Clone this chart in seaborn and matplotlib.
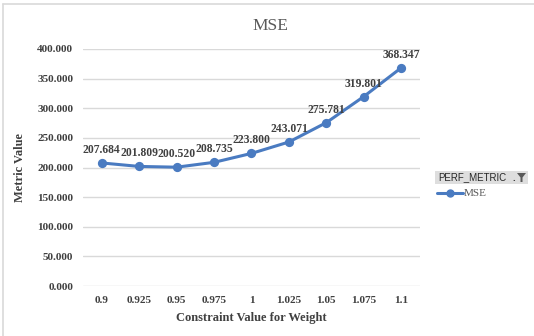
import matplotlib
matplotlib.use("Agg")
import matplotlib.pyplot as plt
from matplotlib.patches import Rectangle, Polygon
from matplotlib.lines import Line2D
from matplotlib.ticker import FuncFormatter, MultipleLocator
import seaborn as sns

# Constraint values (categories) and the MSE measured at each one
constraint_values = ["0.9", "0.925", "0.95", "0.975", "1", "1.025", "1.05", "1.075", "1.1"]
mse_values = [207.684, 201.809, 200.520, 208.735, 223.800, 243.071, 275.781, 319.801, 368.347]
series_name = "MSE"
filter_field = "PERF_METRIC"

sns.set_theme(style="white")
plt.rcParams["font.family"] = ["Liberation Serif", "DejaVu Serif"]

line_color = "#4a7bc1"
text_gray = "#404040"
grid_gray = "#d9d9d9"

fig = plt.figure(figsize=(5.34, 3.36), dpi=100)
ax = fig.add_axes([83 / 534, 1 - 286 / 336, (420 - 83) / 534, (286 - 49) / 336])

sns.pointplot(x=constraint_values, y=mse_values, color=line_color, markers="o",
              markersize=5.0, linewidth=2.2, ax=ax, errorbar=None)

ax.set_xlim(-0.5, len(constraint_values) - 0.5)
ax.set_ylim(0, 400)
ax.yaxis.set_major_locator(MultipleLocator(50))
ax.yaxis.set_major_formatter(FuncFormatter(lambda v, _: f"{v:.3f}"))
ax.yaxis.grid(True, color=grid_gray, linewidth=1.0)
ax.xaxis.grid(False)
ax.set_axisbelow(True)
for side in ["top", "right", "left", "bottom"]:
    ax.spines[side].set_visible(False)
ax.tick_params(axis="both", length=0, labelsize=8.1, labelcolor=text_gray)
ax.tick_params(axis="y", pad=7)
ax.tick_params(axis="x", pad=7)
for lbl in ax.get_xticklabels() + ax.get_yticklabels():
    lbl.set_fontweight("bold")

ax.set_xlabel("Constraint Value for Weight", fontsize=9, fontweight="bold",
              color=text_gray, labelpad=5)
ax.set_ylabel("Metric Value", fontsize=9, fontweight="bold", color=text_gray, labelpad=8)

# value labels above every point
for i, v in enumerate(mse_values):
    ax.annotate(f"{v:.3f}", (i, v), xytext=(0, 5), textcoords="offset points",
                ha="center", va="bottom", fontsize=8.4, fontweight="bold", color=text_gray)

fig.text(270 / 534, 1 - 25.5 / 336, "MSE", ha="center", va="center",
         fontsize=12.5, color="#595959")

# outer chart border (left and top edges)
fig.add_artist(Line2D([3 / 534, 3 / 534], [0, 1 - 4 / 336], transform=fig.transFigure,
                      color=grid_gray, linewidth=1.2))
fig.add_artist(Line2D([3 / 534, 1], [1 - 4 / 336, 1 - 4 / 336], transform=fig.transFigure,
                      color=grid_gray, linewidth=1.2))

# filter field button
W, H = 534, 336
fig.add_artist(Rectangle((435 / W, 1 - 184 / H), (528 - 435) / W, 13 / H,
                         transform=fig.transFigure, facecolor="#dedede", edgecolor="none"))
fig.text(438 / W, 1 - 177.5 / H, filter_field, ha="left", va="center", fontsize=7,
         family=["Liberation Sans", "DejaVu Sans"], color="#262626")
fig.text(514 / W, 1 - 178 / H, ".", ha="center", va="center", fontsize=7,
         family=["Liberation Sans", "DejaVu Sans"], color="#404040", fontweight="bold")
funnel = [(517, 173), (526, 173), (522.5, 177.5), (522.5, 182), (520.5, 182), (520.5, 177.5)]
fig.add_artist(Polygon([(x / W, 1 - y / H) for x, y in funnel], closed=True,
                       transform=fig.transFigure, facecolor="#595959", edgecolor="none"))

# legend entry
fig.add_artist(Line2D([437 / W, 463 / W], [1 - 193.5 / H, 1 - 193.5 / H],
                      transform=fig.transFigure, color=line_color, linewidth=2.2))
fig.add_artist(Line2D([450 / W], [1 - 193.5 / H], transform=fig.transFigure,
                      color=line_color, marker="o", markersize=5.0, linestyle="none"))
fig.text(463.5 / W, 1 - 193.5 / H, series_name, ha="left", va="center", fontsize=8,
         color="#595959")

fig.savefig("out.png", dpi=100)
